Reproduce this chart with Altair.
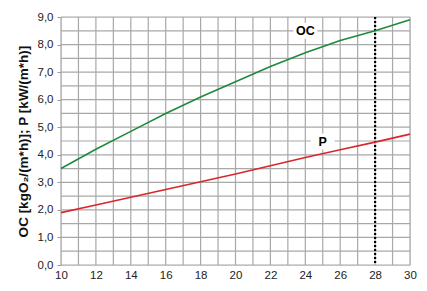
import altair as alt
import pandas as pd

x_vals = [10, 12, 14, 16, 18, 20, 22, 24, 26, 28, 30]
oc_vals = [3.5, 4.2, 4.85, 5.5, 6.1, 6.65, 7.2, 7.7, 8.15, 8.5, 8.9]
p_vals = [1.9, 2.18, 2.46, 2.74, 3.02, 3.3, 3.6, 3.9, 4.18, 4.46, 4.75]
series = ["OC", "P"]
colors = ["#1e8a3c", "#d9262b"]
label_x = [24, 25]
label_y = [8.5, 4.48]
vline_x = [28]

rows = []
for xv, o, p in zip(x_vals, oc_vals, p_vals):
    rows.append({"x": xv, "y": o, "s": "OC"})
    rows.append({"x": xv, "y": p, "s": "P"})
df = pd.DataFrame(rows)
lab = pd.DataFrame({"x": label_x, "y": label_y, "t": series})
vl = pd.DataFrame({"x": vline_x})

FONT = "Liberation Sans"
xs = alt.Scale(domain=[10, 30], nice=False, zero=False)
ys = alt.Scale(domain=[0, 9], nice=False)

xaxis = alt.Axis(values=list(range(10, 31, 2)), labelFontSize=11.5, labelFont=FONT,
                 labelColor="#222", tickSize=0, labelPadding=4, domain=False,
                 grid=False, labelOverlap=False, labelFlush=False, title=None)
yaxis = alt.Axis(values=[i for i in range(0, 10)], labelFontSize=11.5, labelFont=FONT,
                 labelColor="#222", labelExpr="replace(format(datum.value, '.1f'), '.', ',')",
                 tickSize=4, tickColor="#999", labelPadding=4, domain=False, grid=False,
                 labelOverlap=False, labelFlush=False,
                 titleFont=FONT, titleFontSize=13.5, titleFontWeight="bold",
                 titleColor="#111", titlePadding=7,
                 title="OC [kgO₂/(m*h)]; P [kW/(m*h)]")

X = lambda: alt.X("x:Q", scale=xs, axis=xaxis)
Y = lambda: alt.Y("y:Q", scale=ys, axis=yaxis)

lines = alt.Chart(df).mark_line(strokeWidth=1.6).encode(
    x=X(), y=Y(),
    color=alt.Color("s:N", scale=alt.Scale(domain=series, range=colors), legend=None),
)

gx = alt.Chart(pd.DataFrame({"x": list(range(10, 31))})).mark_rule(color="#a8a8a8", strokeWidth=1.2).encode(
    x=X())
gy = alt.Chart(pd.DataFrame({"y": [i * 0.5 for i in range(0, 19)]})).mark_rule(color="#a8a8a8", strokeWidth=1.2).encode(
    y=Y())

vline = alt.Chart(vl).mark_rule(color="#000", strokeWidth=2.2, strokeDash=[2, 2]).encode(x=X())

labels = alt.Chart(lab).mark_text(font=FONT, fontSize=12.5, fontWeight="bold", color="#000").encode(
    x=X(), y=Y(), text="t:N")
label_bg = alt.Chart(lab).mark_rect(color="white", width=24, height=16).encode(x=X(), y=Y())

chart = alt.layer(gx, gy, vline, lines, label_bg, labels).properties(
    width=349, height=248,
    padding={"left": 8, "top": 3, "right": 0, "bottom": 0}
).configure_view(stroke=None).configure(background="white")

chart.save("out.html", embed_options={"renderer": "svg", "actions": False})
